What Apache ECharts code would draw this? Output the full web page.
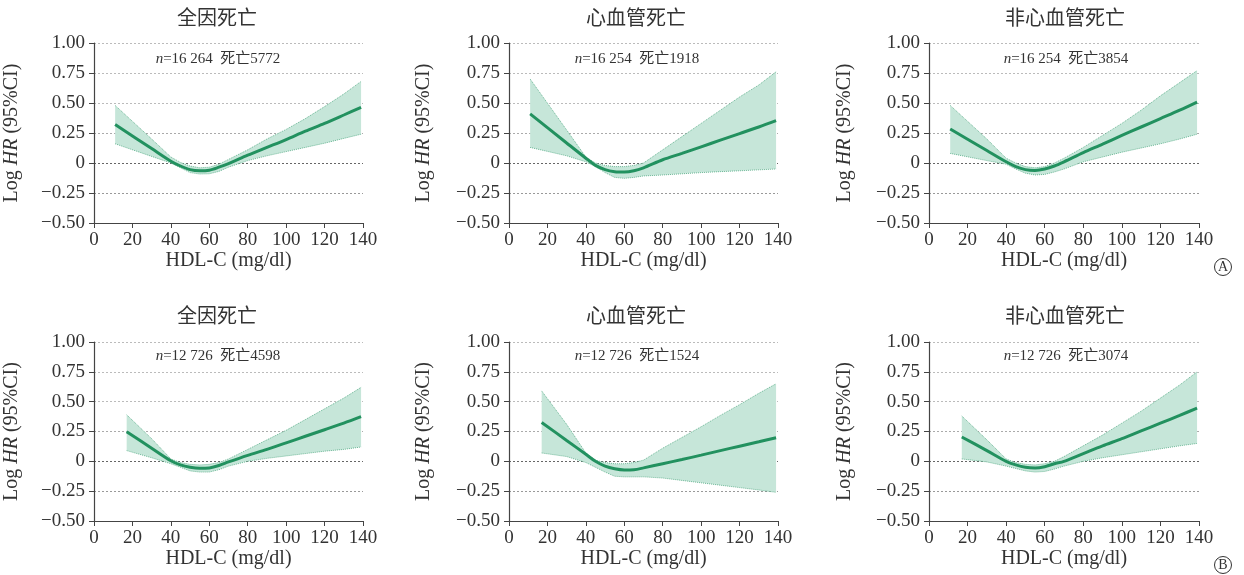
<!DOCTYPE html>
<html>
<head>
<meta charset="utf-8">
<script src="https://cdn.jsdelivr.net/npm/echarts@6/dist/echarts.min.js"></script>
<style>
html,body{margin:0;padding:0;background:#fff;}
#c{width:1244px;height:575px;}
</style>
</head>
<body>
<div id="c"></div>
<script>
// ---------- data ----------
const panelTitles = ['全因死亡', '心血管死亡', '非心血管死亡', '全因死亡', '心血管死亡', '非心血管死亡'];
const panelN = ['16 264', '16 254', '16 254', '12 726', '12 726', '12 726'];
const panelDeaths = ['5772', '1918', '3854', '4598', '1524', '3074'];
const xTicks = [0, 20, 40, 60, 80, 100, 120, 140];
const yTickLabels = ['−0.50', '−0.25', '0', '0.25', '0.50', '0.75', '1.00'];

const hdlTop = [11, 30, 40, 45, 50, 55, 60, 65, 70, 80, 90, 100, 110, 120, 130, 139];
const hdlBottom = [17, 30, 40, 45, 50, 55, 60, 65, 70, 80, 90, 100, 110, 120, 130, 139];

// Panel A1: all-cause
const fitA1 = [0.32, 0.12, 0.015, -0.025, -0.055, -0.065, -0.06, -0.035, -0.005, 0.065, 0.13, 0.195, 0.265, 0.33, 0.40, 0.464];
const lowA1 = [0.16, 0.055, 0.0, -0.04, -0.08, -0.092, -0.09, -0.07, -0.035, 0.02, 0.06, 0.095, 0.13, 0.165, 0.205, 0.24];
const upA1  = [0.48, 0.20, 0.05, 0.005, -0.025, -0.04, -0.035, -0.01, 0.03, 0.11, 0.20, 0.28, 0.37, 0.47, 0.575, 0.68];
// Panel A2: cardiovascular
const fitA2 = [0.41, 0.167, 0.04, -0.02, -0.055, -0.072, -0.075, -0.065, -0.04, 0.027, 0.08, 0.135, 0.19, 0.245, 0.30, 0.353];
const lowA2 = [0.13, 0.06, 0.01, -0.03, -0.08, -0.12, -0.128, -0.12, -0.108, -0.10, -0.09, -0.08, -0.072, -0.065, -0.057, -0.05];
const upA2  = [0.70, 0.275, 0.05, 0.0, -0.02, -0.03, -0.03, -0.02, 0.0, 0.11, 0.22, 0.33, 0.44, 0.55, 0.65, 0.76];
// Panel A3: non-cardiovascular
const fitA3 = [0.283, 0.104, 0.01, -0.03, -0.055, -0.062, -0.05, -0.025, 0.01, 0.086, 0.157, 0.23, 0.30, 0.37, 0.44, 0.508];
const lowA3 = [0.08, 0.02, -0.01, -0.05, -0.085, -0.10, -0.095, -0.075, -0.05, 0.01, 0.05, 0.09, 0.125, 0.16, 0.20, 0.24];
const upA3  = [0.48, 0.20, 0.04, 0.0, -0.03, -0.04, -0.03, 0.0, 0.04, 0.13, 0.23, 0.33, 0.44, 0.56, 0.67, 0.77];
// Panel B1: all-cause
const fitB1 = [0.248, 0.11, 0.005, -0.03, -0.05, -0.059, -0.055, -0.035, -0.005, 0.05, 0.10, 0.155, 0.21, 0.265, 0.32, 0.374];
const lowB1 = [0.09, 0.03, -0.02, -0.05, -0.08, -0.09, -0.09, -0.07, -0.04, 0.0, 0.025, 0.045, 0.065, 0.085, 0.10, 0.12];
const upB1  = [0.39, 0.19, 0.02, -0.01, -0.025, -0.03, -0.025, -0.01, 0.02, 0.10, 0.18, 0.26, 0.35, 0.44, 0.53, 0.62];
// Panel B2: cardiovascular
const fitB2 = [0.326, 0.175, 0.059, 0.0, -0.04, -0.062, -0.072, -0.07, -0.055, -0.02, 0.015, 0.052, 0.09, 0.127, 0.164, 0.198];
const lowB2 = [0.07, 0.04, -0.01, -0.05, -0.09, -0.125, -0.13, -0.13, -0.13, -0.14, -0.16, -0.18, -0.20, -0.22, -0.24, -0.26];
const upB2  = [0.59, 0.31, 0.07, 0.01, -0.01, -0.02, -0.02, -0.01, 0.01, 0.11, 0.20, 0.29, 0.385, 0.475, 0.57, 0.65];
// Panel B3: non-cardiovascular
const fitB3 = [0.204, 0.09, 0.0, -0.03, -0.05, -0.056, -0.045, -0.02, 0.0, 0.065, 0.13, 0.19, 0.255, 0.32, 0.385, 0.446];
const lowB3 = [0.02, -0.005, -0.04, -0.06, -0.08, -0.09, -0.085, -0.065, -0.04, 0.0, 0.03, 0.055, 0.08, 0.105, 0.13, 0.15];
const upB3  = [0.38, 0.18, 0.02, -0.01, -0.025, -0.03, -0.02, 0.0, 0.04, 0.13, 0.22, 0.32, 0.42, 0.53, 0.64, 0.75];

const panels = [
  {x: hdlTop, fit: fitA1, low: lowA1, up: upA1},
  {x: hdlTop, fit: fitA2, low: lowA2, up: upA2},
  {x: hdlTop, fit: fitA3, low: lowA3, up: upA3},
  {x: hdlBottom, fit: fitB1, low: lowB1, up: upB1},
  {x: hdlBottom, fit: fitB2, low: lowB2, up: upB2},
  {x: hdlBottom, fit: fitB3, low: lowB3, up: upB3}
];

// ---------- layout ----------
const FONT = "'Liberation Serif', 'Noto Sans CJK SC', serif";
const TXT = '#333';
const LINE = '#22915f';
const BAND = '#c6e6d9';
const lefts = [94, 509, 929];
const widths = [269, 269, 270];
const tops = [43, 342];
const heights = [180, 179];
const titleX = [217, 636, 1065];
const titleY = [20, 318];
const noteY = [59, 356];
const yNameGap = [72, 75, 74];

const grids = [], xAxes = [], yAxes = [], series = [], graphics = [];
panels.forEach((p, i) => {
  const col = i % 3, row = Math.floor(i / 3);
  grids.push({left: lefts[col], top: tops[row], width: widths[col], height: heights[row], containLabel: false});
  xAxes.push({
    type: 'value', gridIndex: i, min: 0, max: 140, interval: 20,
    name: 'HDL-C (mg/dl)', nameLocation: 'middle', nameGap: 24,
    nameTextStyle: {fontFamily: FONT, fontSize: 20, color: TXT},
    axisLine: {show: true, onZero: false, lineStyle: {color: '#444', width: 1.2}},
    axisTick: {show: true, length: 5, lineStyle: {color: '#444'}},
    axisLabel: {fontFamily: FONT, fontSize: 19, color: TXT, margin: 8,
      formatter: v => xTicks.indexOf(v) >= 0 ? String(v) : ''},
    splitLine: {show: false}
  });
  yAxes.push({
    type: 'value', gridIndex: i, min: -0.5, max: 1, interval: 0.25,
    name: '{a|Log }{b|HR}{a| (95%CI)}', nameLocation: 'middle', nameGap: yNameGap[col],
    nameTextStyle: {fontFamily: FONT, fontSize: 20, color: TXT,
      rich: {a: {fontFamily: FONT, fontSize: 20, color: TXT}, b: {fontFamily: FONT, fontSize: 20, color: TXT, fontStyle: 'italic'}}},
    axisLine: {show: true, onZero: false, lineStyle: {color: '#444', width: 1.2}},
    axisTick: {show: true, length: 5, lineStyle: {color: '#444'}},
    axisLabel: {fontFamily: FONT, fontSize: 19, color: TXT, margin: 9,
      formatter: v => yTickLabels[Math.round((v + 0.5) / 0.25)] || ''},
    splitLine: {show: true, lineStyle: {type: [2, 2], width: 1,
      color: ['#bbbbbb', '#999999', '#666666', '#aaaaaa', '#bbbbbb', '#bbbbbb', '#bbbbbb']}}
  });
  const bandData = p.x.map((x, k) => [x, p.low[k], p.up[k]]);
  const fitData = p.x.map((x, k) => [x, p.fit[k]]);
  series.push({
    type: 'custom', xAxisIndex: i, yAxisIndex: i, silent: true, z: 2,
    data: bandData, encode: {x: 0, y: [1, 2]},
    renderItem: function (params, api) {
      if (params.dataIndex !== 0) return null;
      const upPts = bandData.map(d => api.coord([d[0], d[2]]));
      const lowPts = bandData.map(d => api.coord([d[0], d[1]]));
      const poly = upPts.concat(lowPts.slice().reverse());
      return {
        type: 'group',
        children: [
          {type: 'polygon', shape: {points: poly}, style: {fill: BAND, stroke: null}},
          {type: 'polyline', shape: {points: upPts}, style: {fill: null, stroke: LINE, lineWidth: 0.8, lineDash: [1, 1], opacity: 0.75}},
          {type: 'polyline', shape: {points: lowPts}, style: {fill: null, stroke: LINE, lineWidth: 0.8, lineDash: [1, 1], opacity: 0.75}}
        ]
      };
    }
  });
  series.push({
    type: 'line', xAxisIndex: i, yAxisIndex: i,
    data: fitData, symbol: 'none', smooth: 0.3, silent: true,
    lineStyle: {color: LINE, width: 3}, z: 3
  });
  graphics.push({type: 'text', x: titleX[col], y: titleY[row], silent: true,
    style: {text: panelTitles[i], fontFamily: FONT, fontSize: 20, fill: TXT, textAlign: 'center', textVerticalAlign: 'middle'}});
  graphics.push({type: 'text', x: titleX[col] + 1, y: noteY[row], silent: true,
    style: {text: '{i|n}=' + panelN[i] + '  死亡' + panelDeaths[i], fontFamily: FONT, fontSize: 15, fill: TXT,
      textAlign: 'center', textVerticalAlign: 'middle',
      rich: {i: {fontStyle: 'italic', fontFamily: FONT, fontSize: 15, fill: TXT}}}});
});

// circled panel markers
[['A', 267], ['B', 565]].forEach(([t, cy]) => {
  graphics.push({type: 'circle', shape: {cx: 1223, cy: cy, r: 8.5}, style: {fill: 'none', stroke: '#333', lineWidth: 1}, silent: true});
  graphics.push({type: 'text', x: 1223, y: cy + 0.5, silent: true,
    style: {text: t, fontFamily: FONT, fontSize: 14, fill: '#333', textAlign: 'center', textVerticalAlign: 'middle'}});
});

const chart = echarts.init(document.getElementById('c'), null, {renderer: 'canvas'});
chart.setOption({
  animation: false,
  backgroundColor: '#fff',
  grid: grids, xAxis: xAxes, yAxis: yAxes, series: series, graphic: graphics
});
</script>
</body>
</html>
